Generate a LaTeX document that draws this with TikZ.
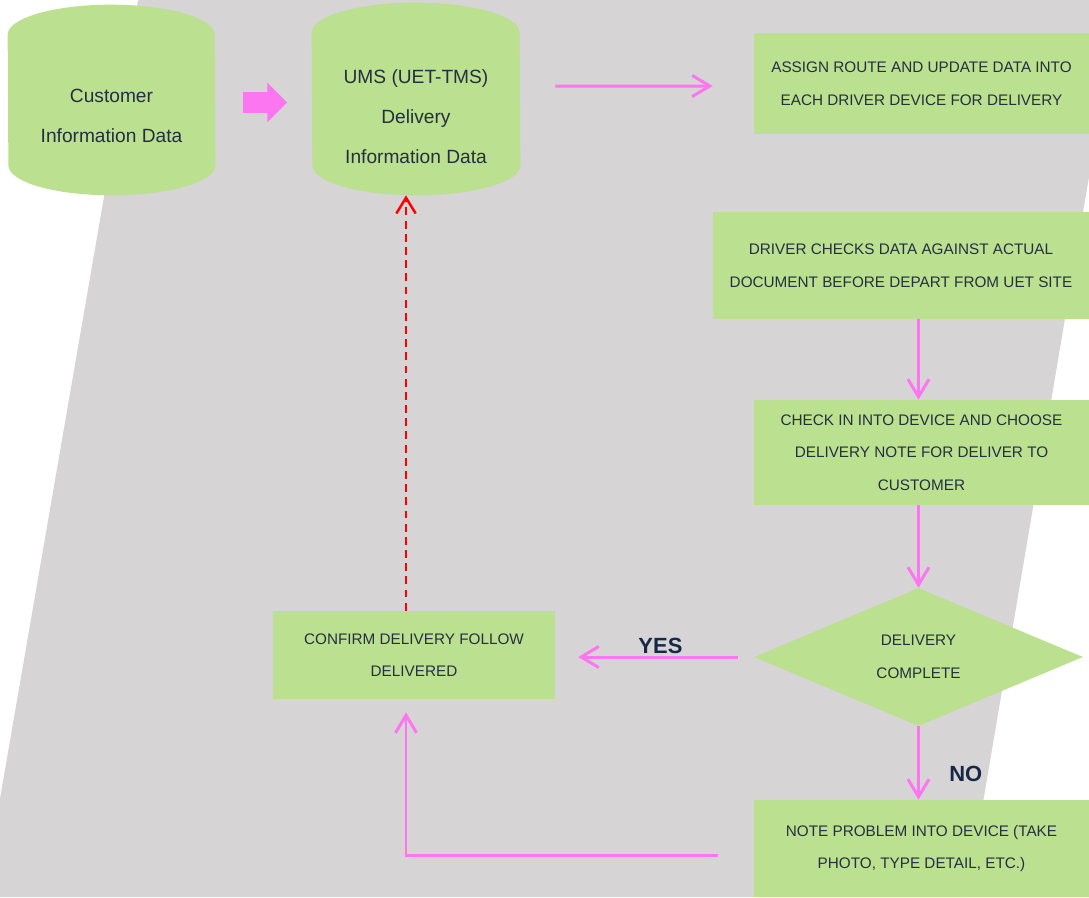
\documentclass[tikz,border=0pt]{standalone}
\usepackage{fontspec}
\setmainfont{Liberation Sans}
\usepackage{xcolor}
\usepackage{tikz}
\usetikzlibrary{arrows.meta, shapes.geometric, shapes.arrows}

\definecolor{leafgreen}{RGB}{187,224,143}
\definecolor{panelgray}{RGB}{214,212,213}
\definecolor{flowpink}{RGB}{252,118,240}
\definecolor{inktext}{RGB}{36,48,66}
\definecolor{inknavy}{RGB}{22,40,70}

\begin{document}
\begin{tikzpicture}[
    x=0.02cm, y=-0.02cm,
    datastore/.style={rectangle, inner sep=0pt},
    storefill/.style={fill=leafgreen},
    storetext/.style={text=inktext, align=center, font=\fontsize{10.9}{22.8}\selectfont},
    stepbox/.style={rectangle, fill=leafgreen, inner sep=0pt, minimum width=6.7cm, text=inktext, align=center, font=\fontsize{8.7}{18.6}\selectfont},
    decision/.style={diamond, fill=leafgreen, inner sep=0pt, text=inktext, align=center, font=\fontsize{8.7}{18.6}\selectfont},
    pusharrow/.style={single arrow, fill=flowpink, inner xsep=0pt, inner ysep=0.2cm, single arrow head extend=0.19cm},
    flow/.style={-{Straight Barb[length=10pt, width=12pt]}, line width=1.7pt, flowpink},
    feedback/.style={-{Straight Barb[length=9pt, width=11pt]}, line width=1.4pt, red, dash pattern=on 4.5pt off 3pt},
    answer/.style={font=\fontsize{12.5}{15}\selectfont\bfseries, text=inknavy, inner sep=1pt}
]

\useasboundingbox (0,0) rectangle (1089,897);
\clip (0,0) rectangle (1089,897);

% background panel
\fill[panelgray] (138,0) -- (1119,0) -- (967,897) -- (-17,897) -- cycle;

% data stores
\node[datastore, minimum width=4.14cm, minimum height=3.8cm] (customer) at (111.5,100) {};
\fill[storefill] ([yshift=-0.6cm]customer.north west)
    arc[start angle=180, end angle=0, x radius=2.07cm, y radius=0.6cm]
    -- ([yshift=0.6cm]customer.south east)
    arc[start angle=0, end angle=-180, x radius=2.07cm, y radius=0.6cm] -- cycle;
\node[storetext] (customertext) at ([yshift=-0.32cm]customer.center) {Customer\\Information Data};

\node[datastore, minimum width=4.16cm, minimum height=3.84cm] (ums) at (416,99) {};
\fill[storefill] ([yshift=-0.6cm]ums.north west)
    arc[start angle=180, end angle=0, x radius=2.08cm, y radius=0.6cm]
    -- ([yshift=0.6cm]ums.south east)
    arc[start angle=0, end angle=-180, x radius=2.08cm, y radius=0.6cm] -- cycle;
\node[storetext] (umstext) at ([yshift=-0.35cm]ums.center) {UMS (UET-TMS)\\Delivery\\Information Data};

\node[pusharrow, minimum height=0.88cm] (push) at (260,102.5) {};

% process steps
\node[stepbox, minimum height=2.02cm] (assign) at (921.5,83.5) {ASSIGN ROUTE AND UPDATE DATA INTO\\EACH DRIVER DEVICE FOR DELIVERY};

\node[stepbox, minimum width=7.52cm, minimum height=2.14cm] (driver) at (901,265.5) {DRIVER CHECKS DATA AGAINST ACTUAL\\DOCUMENT BEFORE DEPART FROM UET SITE};

\node[stepbox, minimum height=2.1cm] (checkin) at (921.5,452.5) {CHECK IN INTO DEVICE AND CHOOSE\\DELIVERY NOTE FOR DELIVER TO\\CUSTOMER};

\node[decision, minimum width=6.58cm, minimum height=2.76cm] (complete) at (918.5,657) {DELIVERY\\COMPLETE};

\node[stepbox, minimum width=5.64cm, minimum height=1.76cm] (confirm) at (414,655) {CONFIRM DELIVERY FOLLOW\\DELIVERED};

\node[stepbox, minimum height=1.94cm] (note) at (921.5,848.5) {NOTE PROBLEM INTO DEVICE (TAKE\\PHOTO, TYPE DETAIL, ETC.)};

% connectors
\draw[flow, shorten <=0.7cm, shorten >=0.82cm] (ums.east |- assign.west) ++(0,2.5) -- ([yshift=-0.05cm]assign.west);
\draw[flow] (driver.south -| complete.north) -- (checkin.north -| complete.north);
\draw[flow] (checkin.south -| complete.north) -- (complete.north);
\draw[flow, shorten <=0.32cm, shorten >=0.46cm] (complete.west) -- (confirm.east |- complete.west)
    node[answer, pos=0.47, above] (yes) {YES};
\draw[flow] (complete.south) -- (note.north -| complete.south)
    node[answer, pos=0.65, right=0.55cm] (no) {NO};
\draw[flow, shorten <=0.72cm, shorten >=0.26cm] ([yshift=-0.13cm]note.west) -| ([xshift=-0.16cm]confirm.south);

% feedback to the store
\draw[feedback] ([xshift=-0.16cm]confirm.north) -- ([xshift=-0.16cm]confirm.north |- ums.south);

\end{tikzpicture}
\end{document}
